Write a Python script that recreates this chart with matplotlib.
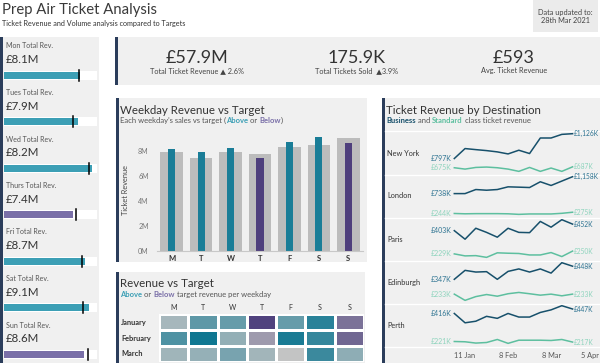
import numpy as np
import pandas as pd
import matplotlib
matplotlib.use('Agg')
import matplotlib.pyplot as plt
import matplotlib.transforms as mtrans
from matplotlib.colors import LinearSegmentedColormap

plt.rcParams['font.family'] = ['Lato', 'DejaVu Sans']

# ---------------- dados ----------------
days = ['M', 'T', 'W', 'T', 'F', 'S', 'S']
day_names = ['Mon', 'Tues', 'Wed', 'Thurs', 'Fri', 'Sat', 'Sun']
revenue = [8.14, 7.92, 8.24, 7.44, 8.72, 9.14, 8.62]   # £M
target = [7.94, 7.46, 7.92, 7.76, 8.34, 8.48, 9.02]    # £M
left_axis_max = [9.9, 10.0, 8.7, 10.0, 10.0, 10.0, 10.0]

kpi_values = ['£57.9M', '175.9K', '£593']
kpi_labels = ['Total Ticket Revenue \u25b2 2.6%', 'Total Tickets Sold  \u25b23.9%', 'Avg. Ticket Revenue']

months = ['January', 'February', 'March']
jan_vs_target = [1.6, 5.5, 5.0, -9.5, 5.0, 8.3, -6.0]   # % vs target
feb_vs_target = [6.4, 9.7, 2.6, -3.1, 9.2, 7.7, -6.8]
mar_vs_target = [1.9, 2.5, 4.1, 1.8, 0.0, 7.4, 2.9]

cities = ['New York', 'London', 'Paris', 'Edinburgh', 'Perth']
weeks = pd.date_range('2021-01-04', periods=12, freq='7D')
ny_business = [797, 929, 915, 902, 885, 858, 907, 863, 1069, 1069, 1117, 1126]
ny_standard = [675, 657, 679, 684, 675, 657, 627, 679, 627, 671, 627, 687]
lon_business = [738, 738, 839, 822, 839, 906, 898, 889, 1032, 940, 1049, 1158]
lon_standard = [244, 236, 240, 240, 240, 236, 222, 232, 232, 232, 248, 275]
par_business = [403, 339, 421, 390, 354, 421, 390, 388, 472, 429, 485, 452]
par_standard = [229, 214, 216, 203, 237, 234, 232, 221, 221, 239, 209, 250]
edi_business = [347, 416, 403, 406, 347, 408, 427, 403, 427, 395, 475, 448]
edi_standard = [233, 185, 214, 230, 217, 236, 246, 236, 225, 233, 220, 233]
per_business = [416, 351, 362, 396, 382, 416, 391, 391, 423, 441, 470, 447]
per_standard = [221, 219, 210, 214, 235, 208, 230, 230, 230, 228, 235, 217]
business = [ny_business, lon_business, par_business, edi_business, per_business]
standard = [ny_standard, lon_standard, par_standard, edi_standard, per_standard]
date_ticks = pd.to_datetime(['2021-01-11', '2021-02-08', '2021-03-08', '2021-04-05'])
date_labels = ['11 Jan', '8 Feb', '8 Mar', '5 Apr']

# ---------------- cores ----------------
PANEL = '#f0f0f0'
BORDER = '#2b3d5b'
TXT = '#333333'
GREY_TXT = '#555555'
TEAL = '#1a7d97'
PURPLE = '#4e3f7c'
TEAL_L = '#3c9fb5'
PURPLE_L = '#7a6fa8'
BUS = '#17506b'
STD = '#5dbf9f'
BUS_LBL = '#2d7391'
STD_LBL = '#8ed4bd'

W, H = 600, 363
fig = plt.figure(figsize=(6, 3.63), dpi=100)
fig.patch.set_facecolor('white')

# eixo de fundo em pixels
bg = fig.add_axes([0, 0, 1, 1])
bg.set_xlim(0, W)
bg.set_ylim(H, 0)
bg.axis('off')


def px_axes(x0, y0, x1, y1):
    ax = fig.add_axes([x0 / W, 1 - y1 / H, (x1 - x0) / W, (y1 - y0) / H])
    ax.patch.set_alpha(0)
    for s in ax.spines.values():
        s.set_visible(False)
    return ax


def panel(x0, y0, x1, y1):
    bg.fill_between([x0, x1], y0, y1, color=PANEL, lw=0)
    bg.fill_between([x0, x0 + 2.5], y0, y1, color=BORDER, lw=0)


renderer = fig.canvas.get_renderer()


def text_width(s, size, weight):
    t1 = bg.text(0, 0, s + '.', fontsize=size, fontweight=weight)
    t2 = bg.text(0, 0, '.', fontsize=size, fontweight=weight)
    w = t1.get_window_extent(renderer).width - t2.get_window_extent(renderer).width
    t1.remove()
    t2.remove()
    return w


def rich(x, y, parts, size):
    for s, c, w in parts:
        bg.text(x, y, s, fontsize=size, color=c, fontweight=w, va='baseline')
        x += text_width(s, size, w)


# ---------------- cabeçalho ----------------
bg.text(2, 14.3, 'Prep Air Ticket Analysis', fontsize=10.7, color='#3a3a3a', va='baseline')
bg.text(2, 26, 'Ticket Revenue and Volume analysis compared to Targets',
        fontsize=5.2, color=TXT, va='baseline')
bg.fill_between([533, 598], 0, 32, color='#ebebeb', lw=0)
bg.text(565.5, 12.5, 'Data updated to:', fontsize=5.3, color='#444444', ha='center', va='center')
bg.text(565.5, 20.8, '28th Mar 2021', fontsize=5.3, color='#444444', ha='center', va='center')

# ---------------- painel esquerdo ----------------
panel(0, 37, 99, H)
for i in range(7):
    dy = 46.5 * i
    bg.text(6, 46 + dy, f'{day_names[i]} Total Rev.', fontsize=5, color=GREY_TXT, va='center')
    bg.text(6, 63.3 + dy, f'£{revenue[i]:.1f}M', fontsize=8.3, color=TXT, va='baseline')
    c = 75.3 + dy
    ax = px_axes(4, c - 4.6, 97, c + 4.6)
    ax.patch.set_alpha(1)
    ax.set_facecolor('white')
    col = TEAL_L if revenue[i] >= target[i] else PURPLE_L
    ax.barh(0, revenue[i], height=0.8, color=col)
    ax.plot([target[i], target[i]], [-0.6, 0.6], color='black', lw=1.1, clip_on=False)
    ax.set_xlim(0, left_axis_max[i])
    ax.set_ylim(-0.5, 0.5)
    ax.set_xticks([])
    ax.set_yticks([])

# ---------------- KPIs ----------------
panel(115, 37, W, 85)
for xc, v, l in zip([197, 357, 514], kpi_values, kpi_labels):
    bg.text(xc, 63.3, v, fontsize=13, color=TXT, ha='center', va='baseline')
    bg.text(xc, 71, l, fontsize=5.3, color='#444444', ha='center', va='center')

# ---------------- receita por dia ----------------
panel(116, 98, 367, 262)
bg.text(120, 113.5, 'Weekday Revenue vs Target', fontsize=8.3, color=TXT, va='baseline')
rich(120, 123, [('Each weekday\u2019s sales vs target (', GREY_TXT, 'normal'),
                ('Above', TEAL_L, 'bold'), (' or ', GREY_TXT, 'normal'),
                ('Below', PURPLE_L, 'bold'), (')', GREY_TXT, 'normal')], 5.5)
bg.text(125, 190, 'Ticket Revenue', fontsize=5.3, color='#444444', rotation=90,
        ha='center', va='center')

ax = px_axes(157, 130, 363, 251)
x = np.arange(7)
ax.bar(x, target, width=0.77, color='#bcbcbc')
ax.bar(x, revenue, width=0.24,
       color=[TEAL if r >= t else PURPLE for r, t in zip(revenue, target)])
ax.set_xlim(-0.5, 6.5)
ax.set_ylim(0, 9.68)
ax.set_yticks([0, 2, 4, 6, 8], ['0M', '2M', '4M', '6M', '8M'])
ax.set_xticks(x, days)
ax.spines['bottom'].set_visible(True)
ax.spines['bottom'].set_color('#c8c8c8')
ax.tick_params(axis='y', length=0, labelsize=5, labelcolor='#777777', pad=6)
ax.tick_params(axis='x', length=0, labelsize=5.5, labelcolor=TXT, pad=3)
for lb in ax.get_xticklabels():
    lb.set_fontweight('bold')

# ---------------- mapa de calor ----------------
panel(116, 272, 365, H)
bg.text(120, 287, 'Revenue vs Target', fontsize=8.3, color=TXT, va='baseline')
rich(120, 297.3, [('Above', TEAL_L, 'bold'), (' or ', GREY_TXT, 'normal'),
                  ('Below', PURPLE_L, 'bold'), (' target revenue per weekday', GREY_TXT, 'normal')], 5.5)
cmap = LinearSegmentedColormap.from_list('vs', [(0, '#4a3c7b'), (0.5, '#c4c4c4'), (1, '#0b7590')])
ax = px_axes(159, 314, 364, 362)
grid = np.array([jan_vs_target, feb_vs_target, mar_vs_target])
ax.pcolormesh(grid, cmap=cmap, vmin=-10, vmax=10, edgecolors='white', linewidth=0.8)
ax.set_ylim(3, 0)
ax.xaxis.tick_top()
ax.set_xticks(np.arange(7) + 0.5, days)
ax.set_yticks([])
ax.tick_params(axis='x', length=0, labelsize=5, labelcolor=TXT, pad=2)
for j, m in enumerate(months):
    bg.text(121, 322 + 16 * j, m, fontsize=5.3, color=TXT, va='center', fontweight='bold')

# ---------------- receita por destino ----------------
panel(382, 98, W, H)
bg.text(386, 113.5, 'Ticket Revenue by Destination', fontsize=8.3, color=TXT, va='baseline')
rich(386, 123, [('Business', BUS, 'bold'), (' and ', GREY_TXT, 'normal'),
                ('Standard', STD, 'bold'), (' class ticket revenue', GREY_TXT, 'normal')], 5.5)
for yy in [131, 174.5, 217.5, 260.5, 303.5, 347]:
    bg.plot([384.5, W], [yy, yy], color='white', lw=1)

row_tops = [132, 175, 218, 261, 304]
x_left = weeks[0] - pd.Timedelta(days=(454.3 - 385) / 1.536)
x_right = weeks[0] + pd.Timedelta(days=(W - 454.3) / 1.536)
for i, city in enumerate(cities):
    y0 = row_tops[i]
    ax = px_axes(385, y0, W, y0 + 42)
    b, s = business[i], standard[i]
    ax.plot(weeks, b, color=BUS, lw=1.1)
    ax.plot(weeks, s, color=STD, lw=1.1)
    lo, hi = min(b + s), max(b + s)
    rng = hi - lo
    ax.set_ylim(lo - 0.07 * rng, hi + 0.045 * rng)
    ax.set_xlim(x_left, x_right)
    ax.set_yticks([])
    for vals, col in [(b, BUS_LBL), (s, STD_LBL)]:
        ax.annotate(f'£{vals[0]:,}K', (weeks[0], vals[0]), xytext=(-2, 0),
                    textcoords='offset points', ha='right', va='center', fontsize=5.0, color=col)
        ax.annotate(f'£{vals[-1]:,}K', (weeks[-1], vals[-1]), xytext=(0.8, 0),
                    textcoords='offset points', ha='left', va='center', fontsize=4.8, color=col)
    bg.text(387, y0 + 21, city, fontsize=5.3, color=TXT, va='center')
    if i == len(cities) - 1:
        ax.set_xticks(date_ticks, date_labels)
        ax.tick_params(axis='x', length=0, labelsize=5.3, labelcolor=GREY_TXT, pad=4)
        last = ax.get_xticklabels()[-1]
        last.set_transform(last.get_transform() + mtrans.ScaledTranslation(-0.04, 0, fig.dpi_scale_trans))
    else:
        ax.set_xticks([])

fig.savefig('out.png', dpi=100)
